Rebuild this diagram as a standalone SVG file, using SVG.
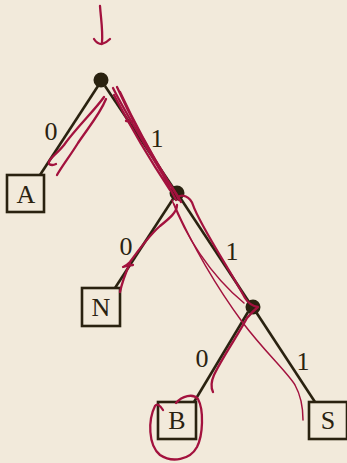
<svg xmlns="http://www.w3.org/2000/svg" width="347" height="463" viewBox="0 0 347 463">
<style>
.edge{stroke:#2a2210;stroke-width:2.6;fill:none;stroke-linecap:butt}
.box{fill:none;stroke:#2a2210;stroke-width:2.6}
.dot{fill:#2a2210}
.t{font-family:"Liberation Serif","DejaVu Serif",serif;font-size:26px;fill:#2a2210;text-anchor:middle}
.ink{fill:none;stroke:#a3123e;stroke-width:2.3;stroke-linecap:round;stroke-linejoin:round}
.thin{fill:none;stroke:#a3123e;stroke-width:1.5;stroke-linecap:round}
</style>
<rect width="347" height="463" fill="#f2eadb"/>
<g id="connectors">
<line class="edge" x1="98" y1="86" x2="40" y2="175"/>
<line class="edge" x1="105" y1="86" x2="174" y2="189"/>
<line class="edge" x1="173" y1="199" x2="115" y2="288"/>
<line class="edge" x1="181" y1="199" x2="249" y2="302"/>
<line class="edge" x1="248" y1="312" x2="194" y2="402"/>
<line class="edge" x1="256" y1="312" x2="315" y2="402"/>
<text class="t" x="51" y="140">0</text>
<text class="t" x="157" y="147">1</text>
<text class="t" x="126" y="255">0</text>
<text class="t" x="232" y="260">1</text>
<text class="t" x="202" y="367">0</text>
<text class="t" x="303" y="370">1</text>
</g>
<g id="root"><circle class="dot" cx="101" cy="80" r="7.5"/></g>
<g id="n1"><circle class="dot" cx="177" cy="193" r="7.5"/></g>
<g id="n2"><circle class="dot" cx="253" cy="307" r="7.5"/></g>
<g id="A"><rect class="box" x="7" y="175" width="37" height="37"/><text class="t" x="26" y="203">A</text></g>
<g id="N"><rect class="box" x="82" y="288" width="38" height="38"/><text class="t" x="101" y="316">N</text></g>
<g id="B"><rect class="box" x="158" y="402" width="38" height="37"/><text class="t" x="177" y="429">B</text></g>
<g id="S"><rect class="box" x="309" y="402" width="38" height="37"/><text class="t" x="328" y="429">S</text></g>
<g id="ink">
<path class="ink" d="M100,6 C101,20 103,30 102,43"/>
<path class="ink" d="M94,39 Q97,44 102,44 Q106,43 110,39"/>
<path class="ink" d="M104,97 C95,110 76,128 64,145 C56,155 47,160 49,164 Q52,166 56,164"/>
<path class="ink" d="M106,99 C100,114 88,128 78,143 C70,156 62,166 57,175"/>
<path class="ink" d="M113,88 C125,112 148,150 163,175 C168,185 172,192 176,200"/>
<path class="ink" d="M117,87 C130,116 150,152 166,178 C171,186 176,193 179,200"/>
<path class="ink" d="M120,92 C133,120 152,155 169,183 C174,190 178,196 181,202"/>
<path class="ink" d="M114,95 C128,122 150,160 170,190"/>
<path class="ink" d="M126,121 L133,121"/>
<path class="ink" d="M178,197 C182,194 190,196 193,205 C200,225 225,262 245,298 Q250,306 258,307 Q252,312 247,318 C238,335 222,358 214,375 C211,382 211,388 213,392"/>
<path class="thin" d="M174,204 C190,240 215,285 243,323 C265,352 287,372 295,385 C300,394 303,405 303,420"/>
<path class="thin" d="M172,200 C185,235 210,275 244,303"/>
<path class="ink" d="M177,205 C177,212 170,218 160,226 C150,235 140,248 130,262 Q126,266 123,267 Q127,265 133,265 M130,263 C126,272 122,283 120,292"/>
<path class="ink" d="M163,410 Q158,402 155,406 C148,420 148,445 160,455 C172,463 190,460 197,447 C203,435 204,410 198,399 C193,393 182,396 176,403"/>
</g>
</svg>
